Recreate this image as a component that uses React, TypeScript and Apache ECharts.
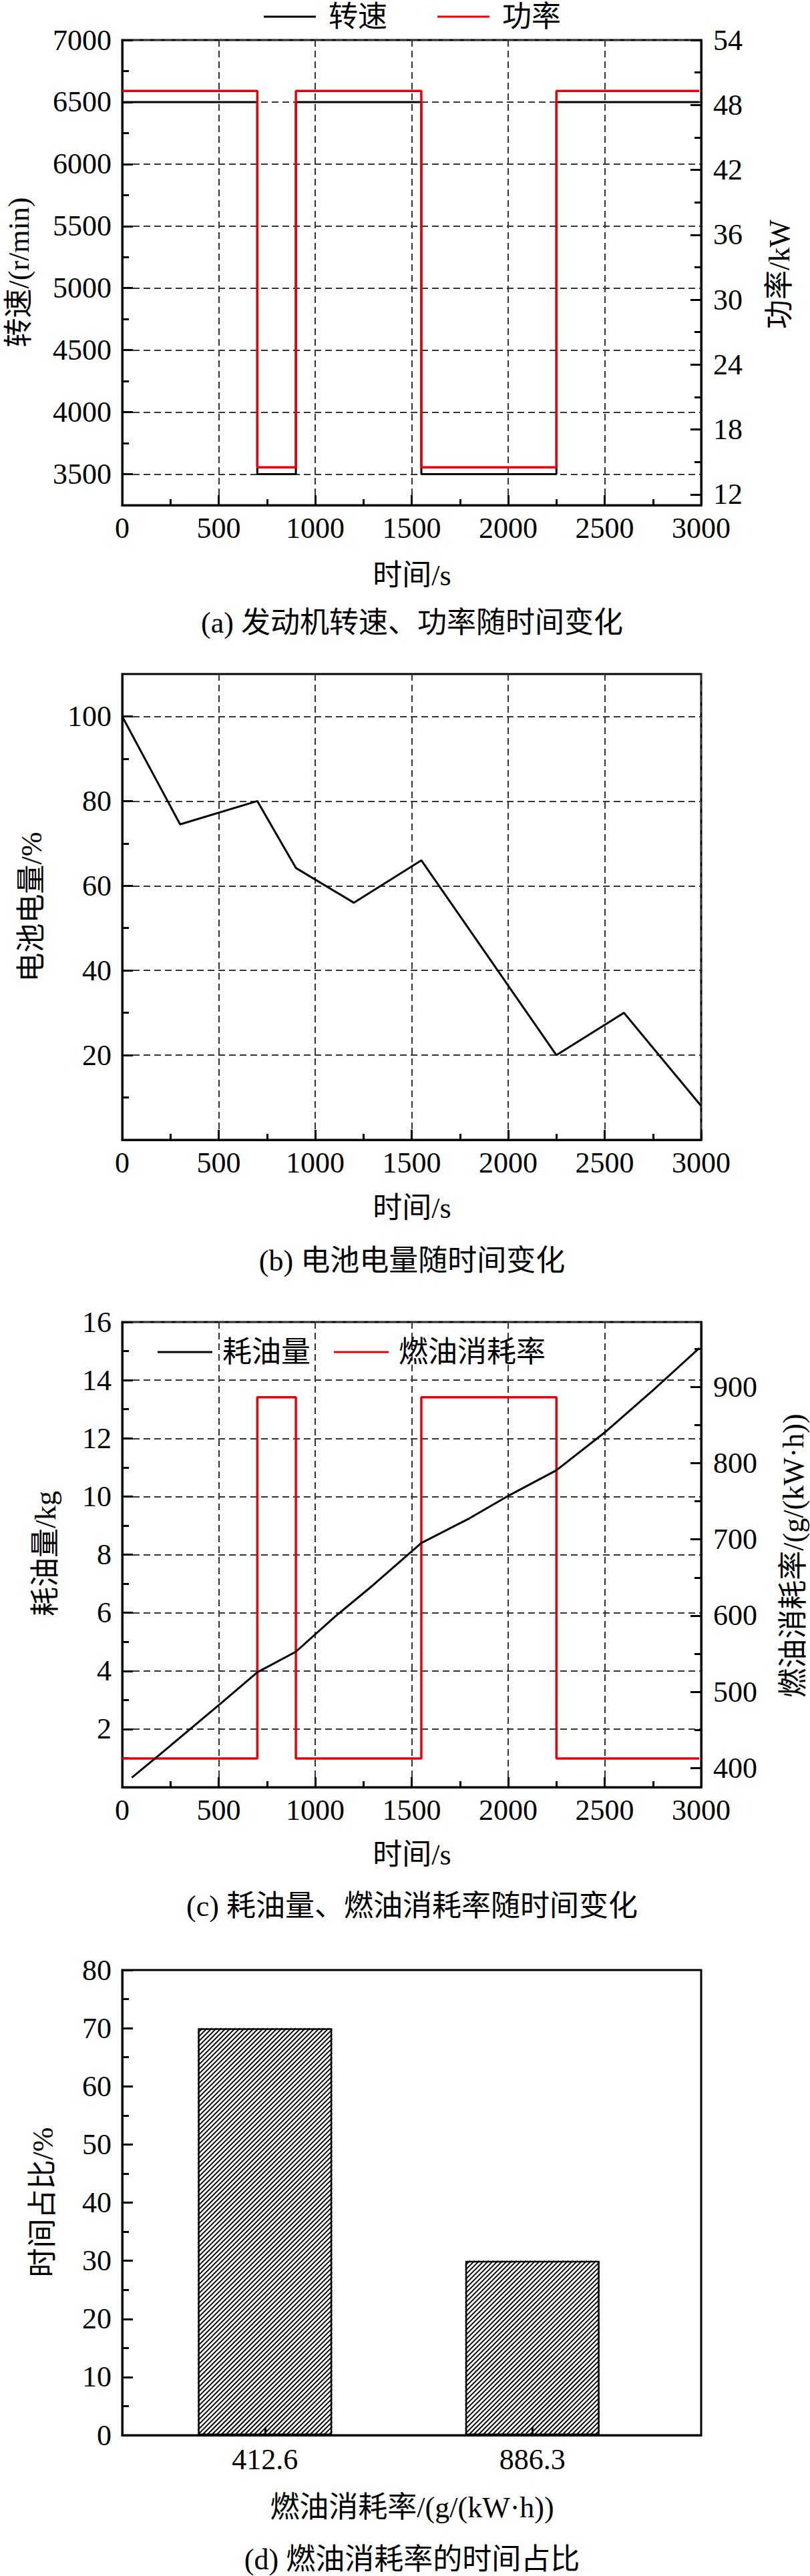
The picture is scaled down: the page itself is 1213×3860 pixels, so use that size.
import React, { useEffect, useRef } from 'react';
import * as echarts from 'echarts';

const FONT = 'Liberation Serif, Times New Roman, Noto Sans CJK SC, serif';
const INK = '#000000';
const RED = '#e8000b';
const FS = 44;

// ---- (a) engine speed & power vs time ----
const stepTimes = [0, 700, 900, 1550, 2250, 2990];
const engineSpeed = [6500, 3500, 6500, 3500, 6500, 6500];
const enginePower = [49.3, 14.5, 49.3, 14.5, 49.3, 49.3];
const speedTicks = [3500, 4000, 4500, 5000, 5500, 6000, 6500, 7000];
const speedMinorTicks = [3750, 4250, 4750, 5250, 5750, 6250, 6750];
const powerTicks = [12, 18, 24, 30, 36, 42, 48, 54];
const powerMinorTicks = [15, 21, 27, 33, 39, 45, 51];

// ---- (b) battery charge vs time ----
const socTimes = [0, 300, 700, 900, 1200, 1550, 2250, 2600, 3000];
const socValues = [100, 74.5, 80, 64.2, 56, 66, 20, 30, 8];
const socTicks = [0, 20, 40, 60, 80, 100];
const socMinorTicks = [10, 30, 50, 70, 90];

// ---- (c) fuel consumed & BSFC vs time ----
const fuelTimes = [50, 200, 500, 700, 900, 1100, 1300, 1550, 1800, 2000, 2250, 2500, 2750, 2990];
const fuelConsumed = [0.33, 1.15, 2.82, 3.95, 4.66, 5.85, 6.95, 8.4, 9.25, 10.02, 10.9, 12.2, 13.65, 15.1];
const bsfcStep = [412.6, 886.3, 412.6, 886.3, 412.6, 412.6];
const bsfcTicks = [400, 500, 600, 700, 800, 900];
const bsfcMinorTicks = [450, 550, 650, 750, 850, 950];

// ---- (d) time share of BSFC levels ----
const bsfcLevels = ['412.6', '886.3'];
const timeShare = [70, 30];

const BAR_W = 201;
const HATCH_STEP = 7;

const inkLine = { color: INK, width: 3 };
const gridDash = { color: '#333333', width: 2, type: [10, 6] };
const plain = (v: number) => String(v);
const labelStyle = (margin: number) => ({ color: INK, fontFamily: FONT, fontSize: FS, margin, formatter: plain });

function timeAxis(): any {
  return {
    type: 'value', min: 0, max: 3000, interval: 500,
    axisLine: { show: true, onZero: false, lineStyle: inkLine },
    axisTick: { show: true, inside: true, length: 15, lineStyle: inkLine },
    minorTick: { show: true, splitNumber: 2, length: 9, lineStyle: inkLine },
    axisLabel: labelStyle(12),
    splitLine: { show: true, lineStyle: gridDash },
  };
}

function customAxis(position: string, min: number, max: number, ticks: number[], grid: boolean, hide: number[] = []): any {
  return {
    type: 'value', position, min, max,
    axisLine: { show: true, onZero: false, lineStyle: inkLine },
    axisTick: { show: true, inside: true, length: 16, customValues: ticks, lineStyle: inkLine },
    axisLabel: {
      ...labelStyle(position === 'right' ? 18 : 16),
      customValues: ticks,
      formatter: (v: number) => (hide.indexOf(v) >= 0 ? '' : String(v)),
    },
    splitLine: { show: grid, lineStyle: gridDash },
  };
}

function minorAxis(position: string, min: number, max: number, ticks: number[]): any {
  return {
    type: 'value', position, min, max,
    axisLine: { show: false, onZero: false },
    axisTick: { show: true, inside: true, length: 10, customValues: ticks, lineStyle: inkLine },
    axisLabel: { show: false },
    splitLine: { show: false },
  };
}

function txt(text: string, x: number, y: number, vertical = false): any {
  return {
    type: 'text', x, y, rotation: vertical ? Math.PI / 2 : 0, silent: true, z: 10,
    style: {
      text, fill: INK, fontSize: FS, fontFamily: FONT,
      align: 'center', verticalAlign: 'middle', textAlign: 'center', textVerticalAlign: 'middle',
    },
  };
}

const frame = (top: number, height: number) => ({
  left: 183, top, width: 867, height, show: true, borderColor: INK, borderWidth: 3,
});

const legendText = (pad: number) => ({ color: INK, fontFamily: FONT, fontSize: FS, padding: [0, 0, 0, pad] });

const optionA: any = {
  animation: false,
  textStyle: { fontFamily: FONT },
  grid: frame(60, 697),
  legend: {
    left: 395, top: 3, padding: 0, icon: 'rect', itemWidth: 78, itemHeight: 3, itemGap: 75, selectedMode: false,
    data: ['转速', '功率'], textStyle: legendText(14),
  },
  xAxis: [timeAxis()],
  yAxis: [
    customAxis('left', 3250, 7000, speedTicks, true),
    customAxis('right', 11, 54, powerTicks, false),
    minorAxis('left', 3250, 7000, speedMinorTicks),
    minorAxis('right', 11, 54, powerMinorTicks),
  ],
  series: [
    {
      type: 'line', name: '转速', yAxisIndex: 0, step: 'end', symbol: 'none', z: 3,
      data: stepTimes.map((t, i) => [t, engineSpeed[i]]),
      lineStyle: { color: INK, width: 3 }, itemStyle: { color: INK },
    },
    {
      type: 'line', name: '功率', yAxisIndex: 1, step: 'end', symbol: 'none', z: 4,
      data: stepTimes.map((t, i) => [t, enginePower[i]]),
      lineStyle: { color: RED, width: 3.5 }, itemStyle: { color: RED },
    },
  ],
  graphic: [
    txt('转速/(r/min)', 28, 408, true),
    txt('功率/kW', 1167, 411, true),
    txt('时间/s', 617, 862),
    txt('(a) 发动机转速、功率随时间变化', 617, 933),
  ],
};

const optionB: any = {
  animation: false,
  textStyle: { fontFamily: FONT },
  grid: frame(50, 698),
  xAxis: [timeAxis()],
  yAxis: [
    customAxis('left', 0, 110, socTicks, true, [0]),
    minorAxis('left', 0, 110, socMinorTicks),
  ],
  series: [
    {
      type: 'line', name: '电池电量', symbol: 'none', z: 3,
      data: socTimes.map((t, i) => [t, socValues[i]]),
      lineStyle: { color: INK, width: 3 }, itemStyle: { color: INK },
    },
  ],
  graphic: [
    txt('电池电量/%', 47, 399, true),
    txt('时间/s', 617, 850),
    txt('(b) 电池电量随时间变化', 617, 929),
  ],
};

const optionC: any = {
  animation: false,
  textStyle: { fontFamily: FONT },
  grid: frame(61, 697),
  legend: {
    left: 236, top: 84, padding: 0, icon: 'rect', itemWidth: 82, itemHeight: 3, itemGap: 35, selectedMode: false,
    data: ['耗油量', '燃油消耗率'], textStyle: legendText(10),
  },
  xAxis: [timeAxis()],
  yAxis: [
    {
      type: 'value', position: 'left', min: 0, max: 16, interval: 2,
      axisLine: { show: true, onZero: false, lineStyle: inkLine },
      axisTick: { show: true, inside: true, length: 16, lineStyle: inkLine },
      minorTick: { show: true, splitNumber: 2, length: 10, lineStyle: inkLine },
      axisLabel: { ...labelStyle(16), formatter: (v: number) => (v === 0 ? '' : String(v)) },
      splitLine: { show: true, lineStyle: gridDash },
    },
    customAxis('right', 375, 985, bsfcTicks, false),
    minorAxis('right', 375, 985, bsfcMinorTicks),
  ],
  series: [
    {
      type: 'line', name: '燃油消耗率', yAxisIndex: 1, step: 'end', symbol: 'none', z: 3,
      data: stepTimes.map((t, i) => [t, bsfcStep[i]]),
      lineStyle: { color: RED, width: 3.5 }, itemStyle: { color: RED },
    },
    {
      type: 'line', name: '耗油量', yAxisIndex: 0, symbol: 'none', z: 4,
      data: fuelTimes.map((t, i) => [t, fuelConsumed[i]]),
      lineStyle: { color: INK, width: 3 }, itemStyle: { color: INK },
    },
  ],
  graphic: [
    txt('耗油量/kg', 68, 408, true),
    txt('燃油消耗率/(g/(kW·h))', 1188, 411, true),
    txt('时间/s', 617, 859),
    txt('(c) 耗油量、燃油消耗率随时间变化', 617, 936),
  ],
};

const barPositions = bsfcLevels.map((_, i) => i + 1);
const barData = timeShare.map((v, i) => [barPositions[i], v]);

// diagonal "/" hatching clipped to each bar, placed through the axes' own scales
function renderHatch(params: any, api: any): any {
  const base = api.coord([api.value(0), 0]);
  const tip = api.coord([api.value(0), api.value(1)]);
  const left = base[0] - BAR_W / 2;
  const bottom = base[1];
  const h = bottom - tip[1];
  const children: any[] = [];
  for (let k = -h; k < BAR_W; k += HATCH_STEP) {
    const t0 = Math.max(0, -k);
    const t1 = Math.min(BAR_W - k, h);
    if (t1 > t0) {
      children.push({
        type: 'line',
        shape: { x1: left + k + t0, y1: bottom - t0, x2: left + k + t1, y2: bottom - t1 },
        style: { stroke: INK, lineWidth: 2 },
      });
    }
  }
  return { type: 'group', children };
}

const optionD: any = {
  animation: false,
  textStyle: { fontFamily: FONT },
  grid: frame(72, 697),
  xAxis: [
    {
      type: 'value', min: 0.466, max: 2.631,
      axisLine: { show: true, onZero: false, lineStyle: inkLine },
      axisTick: { show: true, inside: true, length: 12, customValues: barPositions, lineStyle: inkLine },
      axisLabel: {
        ...labelStyle(14), customValues: barPositions,
        formatter: (v: number) => bsfcLevels[Math.round(v) - 1] ?? '',
      },
      splitLine: { show: false },
    },
  ],
  yAxis: [
    {
      type: 'value', position: 'left', min: 0, max: 80, interval: 10,
      axisLine: { show: true, onZero: false, lineStyle: inkLine },
      axisTick: { show: true, inside: true, length: 16, lineStyle: inkLine },
      minorTick: { show: true, splitNumber: 2, length: 10, lineStyle: inkLine },
      axisLabel: labelStyle(16),
      splitLine: { show: false },
    },
  ],
  series: [
    {
      type: 'custom', name: '斜线填充', silent: true, z: 3, clip: false,
      data: barData, encode: { x: 0, y: 1 },
      renderItem: renderHatch,
    },
    {
      type: 'bar', name: '时间占比', barWidth: BAR_W, z: 4,
      data: barData,
      itemStyle: { color: 'rgba(0,0,0,0)', borderColor: INK, borderWidth: 2.5 },
    },
  ],
  graphic: [
    txt('时间占比/%', 64, 420, true),
    txt('燃油消耗率/(g/(kW·h))', 617, 877),
    txt('(d) 燃油消耗率的时间占比', 617, 955),
  ],
};

function Chart({ option, top, height }: { option: any; top: number; height: number }) {
  const ref = useRef<HTMLDivElement>(null);
  useEffect(() => {
    const chart = echarts.init(ref.current as HTMLDivElement, null, { renderer: 'svg' });
    chart.setOption(option);
    return () => chart.dispose();
  }, [option]);
  return <div ref={ref} style={{ position: 'absolute', left: 0, top, width: 1213, height }} />;
}

export default function App() {
  return (
    <div style={{ position: 'absolute', left: 0, top: 0, width: 1213, height: 3860, background: '#ffffff' }}>
      <Chart option={optionA} top={0} height={960} />
      <Chart option={optionB} top={960} height={960} />
      <Chart option={optionC} top={1920} height={960} />
      <Chart option={optionD} top={2880} height={980} />
    </div>
  );
}
